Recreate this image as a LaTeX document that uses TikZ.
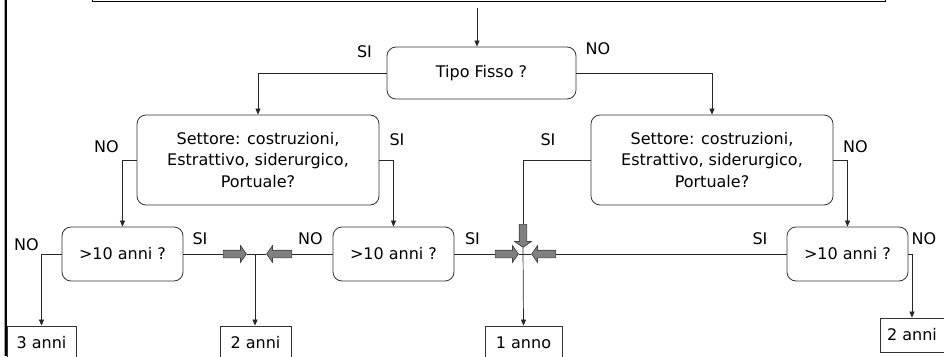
\documentclass[tikz,border=0pt]{standalone}
\usepackage{fontspec}
\setmainfont{DejaVu Sans}
\usetikzlibrary{shapes,arrows.meta,positioning}

\begin{document}
\begin{tikzpicture}[x=1pt,y=-1pt]

  \tikzset{main node/.style={rectangle, draw=black!80, line width=0.8pt,
  		text centered, align=center, rounded corners=9pt,
  		font=\fontsize{16}{21.5}\selectfont}, }
  \tikzset{main anni/.style={main node, minimum width=121pt, minimum height=54pt}, }
  \tikzset{main sett/.style={main node, minimum width=242pt, minimum height=90pt}, }
  \tikzset{fine node/.style={rectangle, draw=black!80, line width=0.8pt,
  		minimum height=34pt, font=\fontsize{16}{18}\selectfont}, }
  \tikzset{etich/.style={inner sep=0pt, font=\fontsize{16}{18}\selectfont}, }
  \tikzset{linea/.style={-{Triangle[length=6pt,width=5pt]}, line width=0.7pt, draw=black!85}, }
  \tikzset{filo/.style={line width=0.7pt, draw=black!85}, }
  \tikzset{freccia/.style={single arrow, draw=black!75, fill=black!50, line width=0.7pt,
  		inner xsep=0pt, inner ysep=3.5pt, single arrow head extend=4.5pt,
  		single arrow tip angle=110, minimum height=23pt}, }

\useasboundingbox (0,0) rectangle (944,356);
% cornice a sinistra
\draw[black!35, line width=1pt] (4.5,0) -- (4.5,356);
\draw[line width=2pt] (6,0) -- (6,356);

\node[rectangle, draw, line width=0.8pt, minimum width=793pt, minimum height=40pt,
      anchor=south] (cap) at (488.5,1.5) {};
\node[main node, minimum width=189pt, minimum height=52pt] (tipo) at (481.5,73) {Tipo Fisso ?};
\node[main sett] (setL) at (258,160) {Settore: costruzioni,\\Estrattivo, siderurgico,\\Portuale?};
\node[main sett] (setR) at (712,160) {Settore: costruzioni,\\Estrattivo, siderurgico,\\Portuale?};
\node[main anni] (anL) at (122.5,254) {>10 anni ?};
\node[main anni] (anM) at (393.5,254) {>10 anni ?};
\node[main anni] (anR) at (847.5,254) {>10 anni ?};

\node[fine node, minimum width=69pt] (r3) at (41.5,343) {3 anni};
\node[fine node, minimum width=71pt] (r2L) at (255.5,343) {2 anni};
\node[fine node, minimum width=77pt] (r1) at (523.5,343) {1 anno};
\node[fine node, minimum width=64pt] (r2R) at (912,335) {2 anni};

% frecce grigie
\node[freccia] (fL) at (233.5,254) {};
\node[freccia, shape border rotate=180, minimum height=25pt] (gL) at (280.5,254) {};
\node[freccia] (fR) at (505.5,254) {};
\node[freccia, shape border rotate=180, minimum height=24pt] (gR) at (545,254) {};
\node[freccia, rotate=-90] (dn) at (523,234.5) {};
\coordinate (jL) at (255,254);

% SI / NO
\node[etich] at (364.5,51.5) {SI};
\node[etich] at (598,49) {NO};
\node[etich] at (106.5,146.5) {NO};
\node[etich] at (397,139.5) {SI};
\node[etich] at (548,139.5) {SI};
\node[etich] at (855.5,146.5) {NO};
\node[etich] at (26.5,245) {NO};
\node[etich] at (200,238.5) {SI};
\node[etich] at (310.5,238.5) {NO};
\node[etich] at (472.5,238.5) {SI};
\node[etich] at (760,238.5) {SI};
\node[etich] at (924,238.5) {NO};

\draw[linea, shorten <=6.5pt] ([xshift=-4.5pt]tipo.north |- cap.south) -- ([xshift=-4.5pt]tipo.north);
\foreach \x /\y in {tipo.west/setL.north,tipo.east/setR.north,setL.west/anL.north,setL.east/anM.north,
  setR.east/anR.north,anL.west/r3.north,anR.east/r2R.north}
  \draw[linea] (\x) -| (\y);
\foreach \x /\y in {anL.east/fL.tail,anM.west/gL.tail,anM.east/fR.tail,anR.west/gR.tail,fL.tip/gL.tip,fR.tip/gR.tip}
  \draw[filo] (\x) -- (\y);
\draw[filo] (setR.west) -| (dn.tail);
\draw[linea] (jL) -- (jL |- r2L.north);
\draw[linea] (dn.tip) -- (r1.north);
%%
\end{tikzpicture}
\end{document}
